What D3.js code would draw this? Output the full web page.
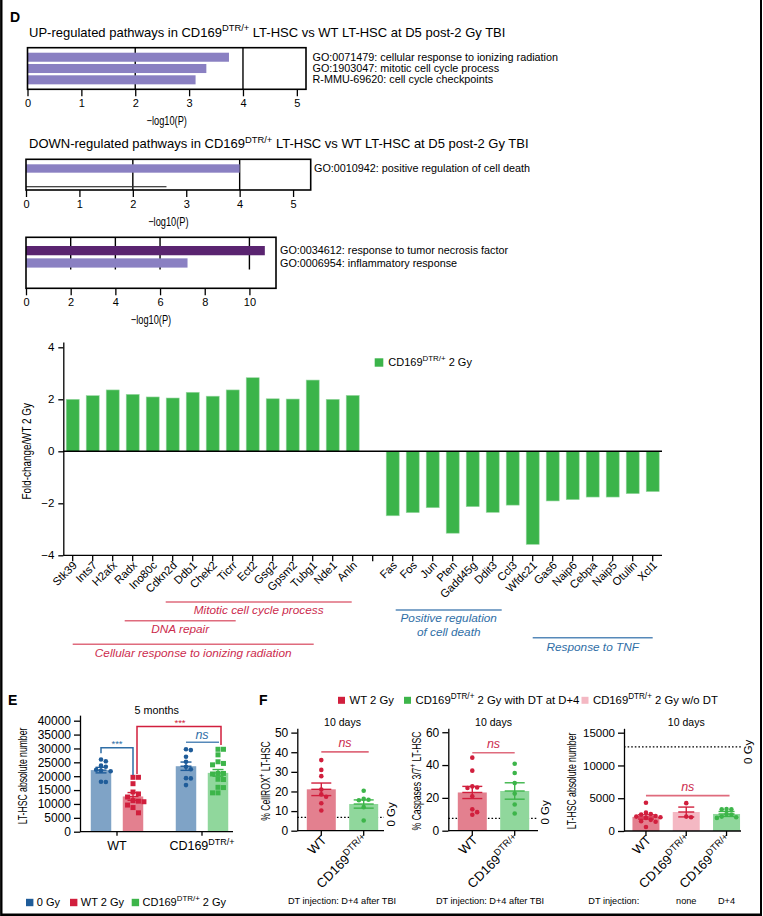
<!DOCTYPE html>
<html><head><meta charset="utf-8">
<script src="https://cdn.jsdelivr.net/npm/d3@7/dist/d3.min.js"></script>
<style>
html,body{margin:0;padding:0;background:#fff;}
svg text{font-family:"Liberation Sans",Arial,Helvetica,sans-serif;}
</style></head><body>
<svg id="fig" width="763" height="916"></svg>
<script>
// ---------------- DATA ----------------
const upTerms = ["GO:0071479: cellular response to ionizing radiation", "GO:1903047: mitotic cell cycle process", "R-MMU-69620: cell cycle checkpoints"];
const upLogP = [3.74, 3.32, 3.12];
const upTicks = [0, 1, 2, 3, 4, 5];
const downTerms = ["GO:0010942: positive regulation of cell death", ""];
const downLogP = [4.0, 2.63];
const tnfTerms = ["GO:0034612: response to tumor necrosis factor", "GO:0006954: inflammatory response"];
const tnfLogP = [10.69, 7.23];
const tnfTicks = [0, 2, 4, 6, 8, 10];

const genesUp = ["Stk39","Ints7","H2afx","Radx","Ino80c","Cdkn2d","Ddb1","Chek2","Ticrr","Ect2","Gsg2","Gpsm2","Tubg1","Nde1","Anln"];
const foldUp = [2.0, 2.14, 2.36, 2.19, 2.09, 2.05, 2.27, 2.12, 2.36, 2.83, 2.02, 2.01, 2.74, 2.0, 2.15];
const genesDown = ["Fas","Fos","Jun","Pten","Gadd45g","Ddit3","Ccl3","Wfdc21","Gas6","Naip6","Cebpa","Naip5","Otulin","Xcl1"];
const foldDown = [-2.48, -2.36, -2.17, -3.15, -2.13, -2.35, -2.07, -3.58, -1.91, -1.86, -1.76, -1.76, -1.63, -1.55];
const foldTicks = [-4, -2, 0, 2, 4];

const pathwayNames = ["Mitotic cell cycle process", "DNA repair", "Cellular response to ionizing radiation", "Positive regulation|of cell death", "Response to TNF"];
const pathwayFrom = ["Cdkn2d", "Radx", "Stk39", "Fas", "Wfdc21"];
const pathwayTo = ["Anln", "Ticrr", "Tubg1", "Ddit3", "Xcl1"];

// Panel E
const eGroups = ["WT", "CD169{DTR/+}"];
const eConds = ["0 Gy", "2 Gy"];
const eMeans = [[22200, 12700], [23600, 21200]];
const eSem = [[1000, 1400], [1500, 1200]];
const eWT0 = [26000, 25400, 23800, 23400, 22300, 22000, 21800, 18000, 17900];
const eWT2 = [19600, 19600, 17300, 14300, 13600, 12500, 11200, 11000, 10800, 9600, 8700, 6800];
const eCD0 = [29700, 29400, 27000, 25200, 23400, 22500, 19200, 19300, 16800];
const eCD2 = [29700, 29700, 27700, 25200, 24600, 24100, 21000, 21000, 20800, 18900, 18800, 16000, 15900, 14000, 14000];
const eTicks = [0, 5000, 10000, 15000, 20000, 25000, 30000, 35000, 40000];

// Panel F
const fLegend = ["WT 2 Gy", "CD169{DTR/+} 2 Gy with DT at D+4", "CD169{DTR/+} 2 Gy w/o DT"];
const rosCats = ["WT", "CD169{DTR/+}"];
const rosMeans = [21.1, 13.6];
const rosSem = [3.2, 2.1];
const rosWT = [36, 31, 27.8, 21, 18.5, 17.3, 14, 10.3];
const rosCD = [20.4, 16.2, 15.8, 15.5, 12, 5.2];
const rosBase = 6.8;
const rosTicks = [0, 10, 20, 30, 40, 50];
const casCats = ["WT", "CD169{DTR/+}"];
const casMeans = [23.3, 24.2];
const casSem = [3.7, 5.0];
const casWT = [44.5, 36.6, 27, 26.3, 26, 21, 13, 11.3, 9.7];
const casCD = [40.8, 35.2, 29, 22.6, 16, 10.5];
const casBase = 7.5;
const casTicks = [0, 20, 40, 60];
const absCats = ["WT", "CD169{DTR/+} ", "CD169{DTR/+}"];
const absMeans = [2150, 2900, 2600];
const absSem = [320, 750, 380];
const absWT = [4300, 2800, 2600, 2500, 2300, 2200, 2100, 2000, 1700, 1500, 1400, 600];
const absNoDT = [4250, 2200, 2100];
const absDT = [3350, 3300, 3300, 2600, 2500, 2200, 2100, 2000];
const absBase = 12850;
const absTicks = [0, 5000, 10000, 15000];
const dtInjection = ["none", "D+4"];

// ---------------- HELPERS ----------------
const svg = d3.select("#fig");
svg.append("rect").attr("width", 763).attr("height", 916).attr("fill", "#fff");
const fmtInt = d3.format("d");

function parse(str){
  return str.split(/(\{[^}]*\})/).filter(s=>s.length).map(s=> s[0]==="{" ? {t:s.slice(1,-1), sup:true} : {t:s, sup:false});
}
function rich(sel, str, size){
  const parts = parse(str);
  parts.forEach((p,i)=>{
    const t = sel.append("tspan").text(p.t);
    if(p.sup){ t.attr("font-size", size*0.72).attr("dy", -size*0.42); }
    else if(i>0 && parts[i-1].sup){ t.attr("dy", size*0.42); }
  });
  return sel;
}
function txt(x, y, str, size, o={}){
  const t = svg.append("text").attr("x", x).attr("y", y).attr("font-size", size)
    .attr("text-anchor", o.anchor||"start").attr("fill", o.fill||"#000");
  if(o.weight) t.attr("font-weight", o.weight);
  if(o.italic) t.attr("font-style", "italic");
  rich(t, str, size);
  return t;
}
function narrow(x, y, rot, str, size, o={}){
  const g = svg.append("g").attr("transform", `translate(${x},${y}) rotate(${rot}) scale(${o.sx||0.74},1)`);
  const t = g.append("text").attr("text-anchor", o.anchor||"middle").attr("font-size", size).attr("fill", o.fill||"#000");
  rich(t, str, size);
  return t;
}
function rotLabel(x, y, str, size, rot){
  const g = svg.append("g").attr("transform", `translate(${x},${y}) rotate(${rot})`);
  const t = g.append("text").attr("text-anchor", "end").attr("font-size", size);
  rich(t, str, size);
}
function swarm(vals, y, r){
  const placed = [];
  const order = vals.map((v,i)=>i).sort((a,b)=>vals[b]-vals[a]);
  const out = new Array(vals.length).fill(0);
  for(const i of order){
    const py = y(vals[i]);
    for(let k=0;k<30;k++){
      const cand = k===0 ? 0 : (k%2 ? 1 : -1)*Math.ceil(k/2)*r*2.1;
      if(placed.every(p=>Math.hypot(p.x-cand, p.y-py) >= 2*r*1.05)){ out[i]=cand; placed.push({x:cand,y:py}); break; }
    }
  }
  return out;
}
function styleAxis(g, size){
  g.selectAll("text").attr("font-size", size).attr("fill", "#000").attr("font-family", '"Liberation Sans",Arial,sans-serif');
  g.selectAll("line,path").attr("stroke", "#000").attr("stroke-width", 1.3);
}

// ---------------- FRAME & LETTERS ----------------
svg.append("path").attr("d", "M1.3,0V914.7H761").attr("fill","none").attr("stroke","#000").attr("stroke-width",2.4);
svg.append("line").attr("x1",761).attr("x2",761).attr("y1",0).attr("y2",916).attr("stroke","#000").attr("stroke-width",2);
txt(10, 22, "D", 14, {weight:"bold"});
txt(8, 705, "E", 14, {weight:"bold"});
txt(259, 705, "F", 14, {weight:"bold"});

// ---------------- PANEL D: enrichment bar charts ----------------
const LAV = "#8a80c2", PURP = "#5a2470";
function hbar(o){
  const x = d3.scaleLinear().domain([0, o.max]).range([o.x0, o.x1]);
  const y = d3.scaleBand().domain(o.terms).range(o.yr).paddingInner(o.pi).paddingOuter(0);
  const g = svg.append("g");
  o.grid.forEach(v=> g.append("line").attr("x1", x(v)).attr("x2", x(v)).attr("y1", o.y0).attr("y2", o.gridBottom||o.y1)
      .attr("stroke","#000").attr("stroke-width",1.4));
  o.terms.forEach((t,i)=>{
    const st = o.styles[i];
    if(st==="line"){
      g.append("rect").attr("x", x(0)).attr("y", y(t)+y.bandwidth()/2-0.6).attr("width", x(o.values[i])-x(0)).attr("height", 1.2).attr("fill","#333");
    } else {
      g.append("rect").attr("x", x(0)).attr("y", y(t)).attr("width", x(o.values[i])-x(0)).attr("height", y.bandwidth()).attr("fill", st);
    }
    if(t) txt(o.labelX, y(t)+y.bandwidth()/2+3.6, t, 10.8);
  });
  g.append("rect").attr("x", o.x0).attr("y", o.y0).attr("width", o.x1-o.x0).attr("height", o.y1-o.y0)
    .attr("fill","none").attr("stroke","#000").attr("stroke-width",1.6);
  const ax = svg.append("g").attr("transform", `translate(0,${o.y1})`)
    .call(d3.axisBottom(x).tickValues(o.ticks).tickSize(7).tickPadding(3).tickSizeOuter(0).tickFormat(fmtInt));
  ax.select(".domain").remove();
  styleAxis(ax, 11);
  narrow((o.x0+o.x1)/2, o.y1+36, 0, "\u2212log10(P)", 12.5);
}
txt(29, 36.7, "UP-regulated pathways in CD169{DTR/+} LT-HSC vs WT LT-HSC at D5 post-2 Gy TBI", 13);
hbar({terms:upTerms, values:upLogP, styles:[LAV,LAV,LAV], max:5.17, x0:27.5, x1:306, y0:47.7, y1:89.3,
      yr:[52.7, 52.7+11.3*2.8], pi:0.2, grid:[2,4], ticks:upTicks, labelX:312.5});
txt(29, 148, "DOWN-regulated pathways in CD169{DTR/+} LT-HSC vs WT LT-HSC at D5 post-2 Gy TBI", 13);
hbar({terms:downTerms, values:downLogP, styles:[LAV,"line"], max:5.33, x0:26, x1:310.7, y0:159.3, y1:190,
      yr:[164.3, 190.9], pi:0.54, grid:[2,4], ticks:upTicks, labelX:314});
hbar({terms:tnfTerms, values:tnfLogP, styles:[PURP,LAV], max:11.19, x0:26, x1:276, y0:237.3, y1:288.3,
      yr:[246, 267.6], pi:0.25, grid:[2,4,6,10], gridBottom:269.5, ticks:tnfTicks, labelX:280});

// ---------------- PANEL D: fold-change ----------------
const GREEN = "#3bb44a";
const foldCats = [...genesUp, "", ...genesDown];
const foldVals = [...foldUp, null, ...foldDown];
const fx = d3.scaleBand().domain(foldCats).range([62.7, 662.7]).paddingInner(0.35).paddingOuter(0.175);
const fy = d3.scaleLinear().domain([-4, 4.2]).range([555.3, 342.1]);
svg.append("g").selectAll("rect").data(foldCats.filter((c,i)=>foldVals[i]!==null)).join("rect")
  .attr("x", c=>fx(c)).attr("width", fx.bandwidth())
  .attr("y", c=>{const v=foldVals[foldCats.indexOf(c)]; return v>0 ? fy(v) : fy(0);})
  .attr("height", c=>{const v=foldVals[foldCats.indexOf(c)]; return Math.abs(fy(v)-fy(0));})
  .attr("fill", GREEN).attr("stroke", "#9ad8a3").attr("stroke-width", 0.6);
svg.append("line").attr("x1", 63).attr("x2", 662).attr("y1", fy(0)).attr("y2", fy(0)).attr("stroke","#000").attr("stroke-width",1.4);
const fyAx = svg.append("g").attr("transform","translate(63.3,0)")
  .call(d3.axisLeft(fy).tickValues(foldTicks).tickSize(5).tickPadding(4).tickSizeOuter(0).tickFormat(d=>d<0?"\u2212"+(-d):d));
styleAxis(fyAx, 11.5);
const fxAx = svg.append("g").attr("transform",`translate(0,${fy(-4)})`)
  .call(d3.axisBottom(fx).tickSize(6).tickSizeOuter(0).tickFormat(""));
styleAxis(fxAx, 11);
fxAx.select(".domain").attr("d", `M63.3,0H662`);
foldCats.forEach(c=>{ if(c) rotLabel(fx(c)+fx.bandwidth()/2+5, 566, c, 11.3, -45); });
narrow(31, fy(0), -90, "Fold-change/WT 2 Gy", 13, {sx:0.76});
// legend
svg.append("rect").attr("x",374.7).attr("y",358.3).attr("width",8.6).attr("height",8.4).attr("fill",GREEN);
txt(388.3, 366, "CD169{DTR/+} 2 Gy", 11);
// pathway annotations
const RED_T = "#cc2c4e", RED_L = "#df6b7d", BLUE_T = "#2f6ea6", BLUE_L = "#5689b9";
const pwLayout = [
  {lineY:602, textY:614, dx0:-7, dx1:-1, red:true},
  {lineY:620.7, textY:633.3, dx0:-8, dx1:3, red:true},
  {lineY:644.3, textY:656.7, dx0:0, dx1:1, red:true},
  {lineY:610, textY:621.7, dx0:3, dx1:9, red:false},
  {lineY:637.7, textY:651, dx0:0, dx1:0, red:false}
];
const cx = g => fx(g)+fx.bandwidth()/2;
pathwayNames.forEach((n,i)=>{
  const L = pwLayout[i];
  const x0 = cx(pathwayFrom[i])+L.dx0, x1 = cx(pathwayTo[i])+L.dx1;
  svg.append("line").attr("x1",x0).attr("x2",x1).attr("y1",L.lineY).attr("y2",L.lineY)
    .attr("stroke", L.red?RED_L:BLUE_L).attr("stroke-width",1.6);
  n.split("|").forEach((s,j)=> txt((x0+x1)/2, L.textY+j*14, s, 11.8, {anchor:"middle", italic:true, fill:L.red?RED_T:BLUE_T}));
});

// ---------------- PANEL E ----------------
const BLUE_BAR="#7fa3c6", BLUE_PT="#1f5c99", RED_BAR="#e3808f", RED_PT="#d11f3d", GREEN_BAR="#90d79c", GREEN_PT="#3db54a", PINK_BAR="#f4b8c3";
const eY = d3.scaleLinear().domain([0, 42000]).range([831.7, 715.15]);
const eX = d3.scaleBand().domain(eGroups).range([74.5, 244.5]);
const eSub = d3.scaleBand().domain(eConds).range([0, 85]).paddingInner(0.36).paddingOuter(0.508);
const ePts = [[eWT0, eWT2],[eCD0, eCD2]];
const eBarCol = [[BLUE_BAR, RED_BAR],[BLUE_BAR, GREEN_BAR]];
const ePtCol = [[BLUE_PT, RED_PT],[BLUE_PT, GREEN_PT]];
const eShape = [["c","s"],["c","s"]];
function barWithPoints(xc, bw, y, mean, sem, pts, barCol, ptCol, shape, capW){
  svg.append("rect").attr("x", xc-bw/2).attr("y", y(mean)).attr("width", bw).attr("height", y(0)-y(mean)).attr("fill", barCol);
  const r = shape==="s" ? 2.6 : 2.3;
  const off = swarm(pts, y, r);
  pts.forEach((v,i)=>{
    if(shape==="s") svg.append("rect").attr("x", xc+off[i]-2.5).attr("y", y(v)-2.5).attr("width",5).attr("height",5).attr("fill",ptCol);
    else svg.append("circle").attr("cx", xc+off[i]).attr("cy", y(v)).attr("r", 2.3).attr("fill", ptCol);
  });
  const g = svg.append("g").attr("stroke", ptCol).attr("stroke-width", 1.4).attr("fill","none");
  g.append("line").attr("x1",xc).attr("x2",xc).attr("y1",y(mean+sem)).attr("y2",y(mean-sem));
  [mean+sem, mean-sem, mean].forEach(v=> g.append("line").attr("x1",xc-capW).attr("x2",xc+capW).attr("y1",y(v)).attr("y2",y(v)));
}
eGroups.forEach((gname,gi)=>{
  eConds.forEach((c,ci)=>{
    const xc = eX(gname)+eSub(c)+eSub.bandwidth()/2;
    barWithPoints(xc, eSub.bandwidth(), eY, eMeans[gi][ci], eSem[gi][ci], ePts[gi][ci], eBarCol[gi][ci], ePtCol[gi][ci], eShape[gi][ci], 5.5);
  });
});
const eYax = svg.append("g").attr("transform","translate(80,0)")
  .call(d3.axisLeft(eY).tickValues(eTicks).tickSize(6).tickPadding(3).tickSizeOuter(0).tickFormat(fmtInt));
styleAxis(eYax, 12);
const eXax = svg.append("g").attr("transform",`translate(0,${eY(0)})`)
  .call(d3.axisBottom(eX).tickSize(4).tickSizeOuter(0).tickFormat(""));
styleAxis(eXax, 12);
eXax.select(".domain").attr("d","M80,0H233");
eGroups.forEach(gname=> txt(eX(gname)+eX.bandwidth()/2, 850, gname, 12.5, {anchor:"middle"}));
narrow(27, 776, -90, "LT-HSC absolute number", 12, {sx:0.72});
txt(156.7, 714, "5 months", 10.8, {anchor:"middle"});
// significance
const ec = (g,c)=> eX(g)+eSub(c)+eSub.bandwidth()/2;
svg.append("path").attr("d",`M${ec("WT","0 Gy")},753.3V747.7H${ec("WT","2 Gy")}V775`).attr("fill","none").attr("stroke",BLUE_T).attr("stroke-width",1.5);
txt((ec("WT","0 Gy")+ec("WT","2 Gy"))/2, 746.5, "***", 9.5, {anchor:"middle", fill:BLUE_T});
svg.append("path").attr("d",`M${ec("WT","2 Gy")+4},774V726.5H${ec("CD169{DTR/+}","2 Gy")+3}V745`).attr("fill","none").attr("stroke",RED_PT).attr("stroke-width",1.5);
txt(180, 725.5, "***", 9.5, {anchor:"middle", fill:RED_PT});
svg.append("line").attr("x1",ec("CD169{DTR/+}","0 Gy")).attr("x2",ec("CD169{DTR/+}","2 Gy")+1).attr("y1",742.3).attr("y2",742.3).attr("stroke",BLUE_L).attr("stroke-width",1.5);
txt((ec("CD169{DTR/+}","0 Gy")+ec("CD169{DTR/+}","2 Gy"))/2, 738.6, "ns", 12.5, {anchor:"middle", italic:true, fill:BLUE_T});
// legend E
[["0 Gy",BLUE_PT,26],["WT 2 Gy",RED_PT,70],["CD169{DTR/+} 2 Gy",GREEN_PT,131.7]].forEach(([l,c,x])=>{
  svg.append("rect").attr("x",x).attr("y",898.8).attr("width",7.4).attr("height",7.4).attr("fill",c);
  txt(x+10.8, 905.6, l, 11);
});

// ---------------- PANEL F ----------------
[[fLegend[0],RED_PT,338],[fLegend[1],GREEN_PT,404],[fLegend[2],PINK_BAR,581.5]].forEach(([l,c,x])=>{
  svg.append("rect").attr("x",x).attr("y",696.8).attr("width",7).attr("height",7).attr("fill",c);
  txt(x+11.5, 704, l, 11.3);
});
function fChart(o){
  const y = d3.scaleLinear().domain([0, o.ymax]).range([o.y0, 728.3]);
  const x = d3.scaleBand().domain(o.cats).range([o.ax, o.ax+o.w]).paddingInner(o.pi).paddingOuter(o.po);
  svg.append("line").attr("x1",o.ax).attr("x2",o.xEnd).attr("y1",y(o.base)).attr("y2",y(o.base))
    .attr("stroke","#000").attr("stroke-width",1.3).attr("stroke-dasharray","1.6,2");
  const g0 = svg.append("g").attr("transform",`translate(${o.xEnd+10.5},${y(o.base)+o.gyOff}) rotate(-90)`);
  g0.append("text").attr("text-anchor","middle").attr("font-size",11.5).text("0 Gy");
  o.cats.forEach((c,i)=>{
    const xc = x(c)+x.bandwidth()/2;
    barWithPoints(xc, x.bandwidth(), y, o.means[i], o.sems[i], o.pts[i], o.barCol[i], o.ptCol[i], "c", o.capW);
    rotLabel(xc+6, 841, c, 13, -45);
  });
  const yax = svg.append("g").attr("transform",`translate(${o.ax},0)`)
    .call(d3.axisLeft(y).tickValues(o.ticks).tickSize(6).tickPadding(3).tickSizeOuter(0).tickFormat(fmtInt));
  styleAxis(yax, o.tickSize);
  const xax = svg.append("g").attr("transform",`translate(0,${o.y0})`)
    .call(d3.axisBottom(x).tickSize(5).tickSizeOuter(0).tickFormat(""));
  styleAxis(xax, 11);
  xax.select(".domain").attr("d",`M${o.ax},0H${o.xEnd}`);
  const c0 = x(o.cats[0])+x.bandwidth()/2, c1 = x(o.cats[o.cats.length-1])+x.bandwidth()/2;
  txt((c0+c1)/2, 726, "10 days", 10.5, {anchor:"middle"});
  svg.append("line").attr("x1",c0).attr("x2",c1+o.nsExt).attr("y1",y(o.nsY)).attr("y2",y(o.nsY)).attr("stroke",RED_L).attr("stroke-width",1.6);
  txt((c0+c1)/2+o.nsExt/2, y(o.nsY)-4.4, "ns", 12.5, {anchor:"middle", italic:true, fill:RED_T});
  narrow(o.ax-o.ylabOff, 781, -90, o.ylab, 12, {sx:0.72});
  return x;
}
fChart({cats:rosCats, ymax:52.2, y0:830.7, ax:297.3, w:90.4, pi:0.316, po:0.224, xEnd:384, base:rosBase, gyOff:-3,
  means:rosMeans, sems:rosSem, pts:[rosWT, rosCD], barCol:[RED_BAR, GREEN_BAR], ptCol:[RED_PT, GREEN_PT], capW:10,
  ticks:rosTicks, tickSize:12, nsY:40.2, nsExt:5, ylab:"% CellROX{+} LT-HSC", ylabOff:27});
fChart({cats:casCats, ymax:62.4, y0:830.7, ax:448.3, w:90.4, pi:0.316, po:0.224, xEnd:538, base:casBase, gyOff:-6,
  means:casMeans, sems:casSem, pts:[casWT, casCD], barCol:[RED_BAR, GREEN_BAR], ptCol:[RED_PT, GREEN_PT], capW:10,
  ticks:casTicks, tickSize:12, nsY:47.5, nsExt:0, ylab:"% Caspases 3/7{+} LT-HSC", ylabOff:27});
const xAbs = fChart({cats:absCats, ymax:15670, y0:831, ax:624, w:124.5, pi:0.33, po:0.21, xEnd:741, base:absBase, gyOff:5,
  means:absMeans, sems:absSem, pts:[absWT, absNoDT, absDT], barCol:[RED_BAR, PINK_BAR, GREEN_BAR], ptCol:[RED_PT, RED_PT, GREEN_PT], capW:8,
  ticks:absTicks, tickSize:11.5, nsY:5400, nsExt:3, ylab:"LT-HSC absolute number", ylabOff:48.5});
// DT injection notes
txt(342, 904, "DT injection: D+4 after TBI", 9.2, {anchor:"middle"});
txt(490, 904, "DT injection: D+4 after TBI", 9.2, {anchor:"middle"});
txt(588.3, 904, "DT injection:", 9.2);
dtInjection.forEach((d,i)=>{
  const c = absCats[i+1];
  txt(xAbs(c)+xAbs.bandwidth()/2, 904, d, 9.2, {anchor:"middle"});
});
</script></body></html>
